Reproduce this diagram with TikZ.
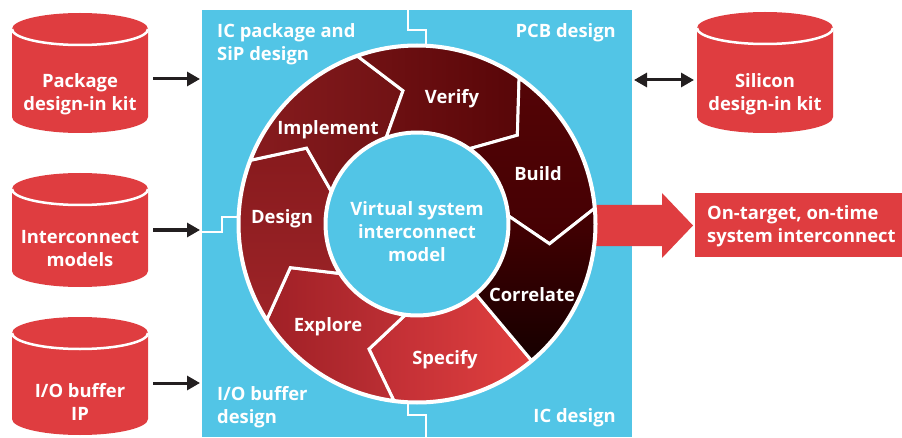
\documentclass[tikz,border=0pt]{standalone}
\usepackage{fontspec}
\setmainfont{Open Sans}
\usetikzlibrary{arrows.meta}
\definecolor{cyanbg}{RGB}{82,197,230}
\definecolor{redc}{RGB}{223,61,64}
\definecolor{arrowk}{RGB}{35,31,32}
\newcommand\dbcyl[3]{%
  \fill[redc] (#1,#2-16) -- (#1,#3+16) arc[start angle=180,end angle=360,x radius=68,y radius=16]
     -- (#1+136,#2-16) arc[start angle=0,end angle=180,x radius=68,y radius=16] -- cycle;
  \draw[white,line width=2.5pt] (#1,#2-16) arc[start angle=180,end angle=360,x radius=68,y radius=16];
}
\begin{document}
\begin{tikzpicture}[x=1pt,y=1pt,
  lbl/.style={font=\fontsize{18.4}{23}\selectfont\bfseries, text=white, align=center, inner sep=0pt},
  seglbl/.style={lbl, text height=13pt, text depth=0pt},
  seg/.style={draw=white, line width=3pt, line join=miter},
  divline/.style={draw=white, line width=2.5pt},
  feed/.style={draw=arrowk, line width=3pt, -{Triangle[length=13pt,width=14pt]}},
  dbl/.style={draw=arrowk, line width=3pt, {Triangle[length=13pt,width=14pt]}-{Triangle[length=13pt,width=14pt]}},
]
\useasboundingbox (0,0) rectangle (902,437);
% panel
\node[fill=cyanbg, minimum width=430pt, minimum height=427pt, inner sep=0pt, outer sep=0pt, anchor=south west] (panel) at (202,0) {};
\draw[divline] (408,427) -- (408,407) -- (426,407) -- (426,390);
\draw[divline] (202,205) -- (222,205) -- (222,220) -- (245,220);
\draw[divline] (408,36) -- (408,22) -- (426,22) -- (426,0);
% big output arrow (behind ring)
\fill[redc] (590,232) -- (662,232) -- (662,244) -- (693,211.5) -- (662,179) -- (662,191) -- (590,191) -- cycle;
% ring
\begin{scope}[shift={(417,213)}]
\fill[white] (0,0) circle[radius=180.5];
% Specify
\path[seg, left color={rgb,255:red,190;green,45;blue,52}, right color={rgb,255:red,224;green,64;blue,63}]
  (-50:178) arc[start angle=-50,end angle=-97.5,radius=178] -- (-111:134) -- (-97.5:92)
  arc[start angle=-97.5,end angle=-50,radius=92] -- cycle;
% Explore
\path[seg, left color={rgb,255:red,160;green,32;blue,38}, right color={rgb,255:red,190;green,48;blue,53}]
  (-97.5:178) arc[start angle=-97.5,end angle=-147.5,radius=178] -- (-161:134) -- (-147.5:92)
  arc[start angle=-147.5,end angle=-97.5,radius=92] -- (-111:134) -- cycle;
% Design
\path[seg, top color={rgb,255:red,135;green,26;blue,29}, bottom color={rgb,255:red,158;green,36;blue,40}]
  (-147.5:178) arc[start angle=-147.5,end angle=-201,radius=178] -- (-214.5:134) -- (-201:92)
  arc[start angle=-201,end angle=-147.5,radius=92] -- (-161:134) -- cycle;
% Implement
\path[seg, left color={rgb,255:red,135;green,27;blue,30}, right color={rgb,255:red,112;green,18;blue,20}]
  (-201:178) arc[start angle=-201,end angle=-250.5,radius=178] -- (-264:134) -- (-250.5:92)
  arc[start angle=-250.5,end angle=-201,radius=92] -- (-214.5:134) -- cycle;
% Verify
\path[seg, left color={rgb,255:red,114;green,18;blue,20}, right color={rgb,255:red,88;green,6;blue,8}]
  (-250.5:178) arc[start angle=-250.5,end angle=-305,radius=178] -- (-318.5:134) -- (-305:92)
  arc[start angle=-305,end angle=-250.5,radius=92] -- (-264:134) -- cycle;
% Build
\path[seg, top color={rgb,255:red,84;green,4;blue,6}, bottom color={rgb,255:red,68;green,0;blue,3}]
  (-305:178) arc[start angle=-305,end angle=-355,radius=178] -- (-368.5:134) -- (-355:92)
  arc[start angle=-355,end angle=-305,radius=92] -- (-318.5:134) -- cycle;
% Correlate
\path[seg, top color={rgb,255:red,70;green,0;blue,2}, bottom color={rgb,255:red,22;green,0;blue,0}]
  (-355:178) arc[start angle=-355,end angle=-410,radius=178] -- (-410:92)
  arc[start angle=-410,end angle=-355,radius=92] -- (-368.5:134) -- cycle;
\draw[white, line width=3pt, fill=cyanbg] (0,0) circle[radius=91];
\end{scope}
% ring labels
\node[seglbl] (lspec) at (445,79) {Specify};
\node[seglbl] (lexpl) at (328,112) {Explore};
\node[seglbl] (ldes) at (282,220) {Design};
\node[seglbl] (limpl) at (328,309) {Implement};
\node[seglbl] (lver) at (452,339.5) {Verify};
\node[seglbl] (lbuild) at (538,263) {Build};
\node[seglbl] (lcorr) at (532,142) {Correlate};
\node[lbl] (core) at (417,205.5) {Virtual system\\interconnect\\model};
% panel labels
\node[lbl, align=left, anchor=north west] (tpkg) at (217,414) {IC package and\\SiP design};
\node[lbl, align=right, anchor=north east] (tpcb) at (616,414) {PCB design};
\node[lbl, align=left, anchor=north west] (tio) at (217,51) {I/O buffer\\design};
\node[lbl, align=right, anchor=north east] (tic) at (616,29) {IC design};
% cylinders
\dbcyl{12}{424}{304}
\dbcyl{12}{264}{150}
\dbcyl{12}{120}{2}
\dbcyl{697}{425}{304}
\node[lbl] (pdk) at (80,343) {Package\\design-in kit};
\node[lbl] (icm) at (80,188.5) {Interconnect\\models};
\node[lbl] (iob) at (80,35) {I/O buffer\\IP};
\node[lbl] (sdk) at (765,343) {Silicon\\design-in kit};
\coordinate (c1e) at (153,358);
\coordinate (c2e) at (153,207);
\coordinate (c3e) at (153,54);
\coordinate (silw) at (694,357);
\draw[feed] (c1e) -- ([xshift=-2pt]c1e -| panel.west);
\draw[feed] (c2e) -- ([xshift=-2pt]c2e -| panel.west);
\draw[feed] (c3e) -- ([xshift=-2pt]c3e -| panel.west);
\draw[dbl] ([xshift=2pt]silw -| panel.east) -- (silw);
% output box
\node[fill=redc, minimum width=207pt, minimum height=64pt, inner sep=0pt, anchor=south west] (out) at (695,180) {};
\node[lbl, align=left, anchor=west] (outtxt) at (707,211) {On-target, on-time\\system interconnect};
\end{tikzpicture}
\end{document}
